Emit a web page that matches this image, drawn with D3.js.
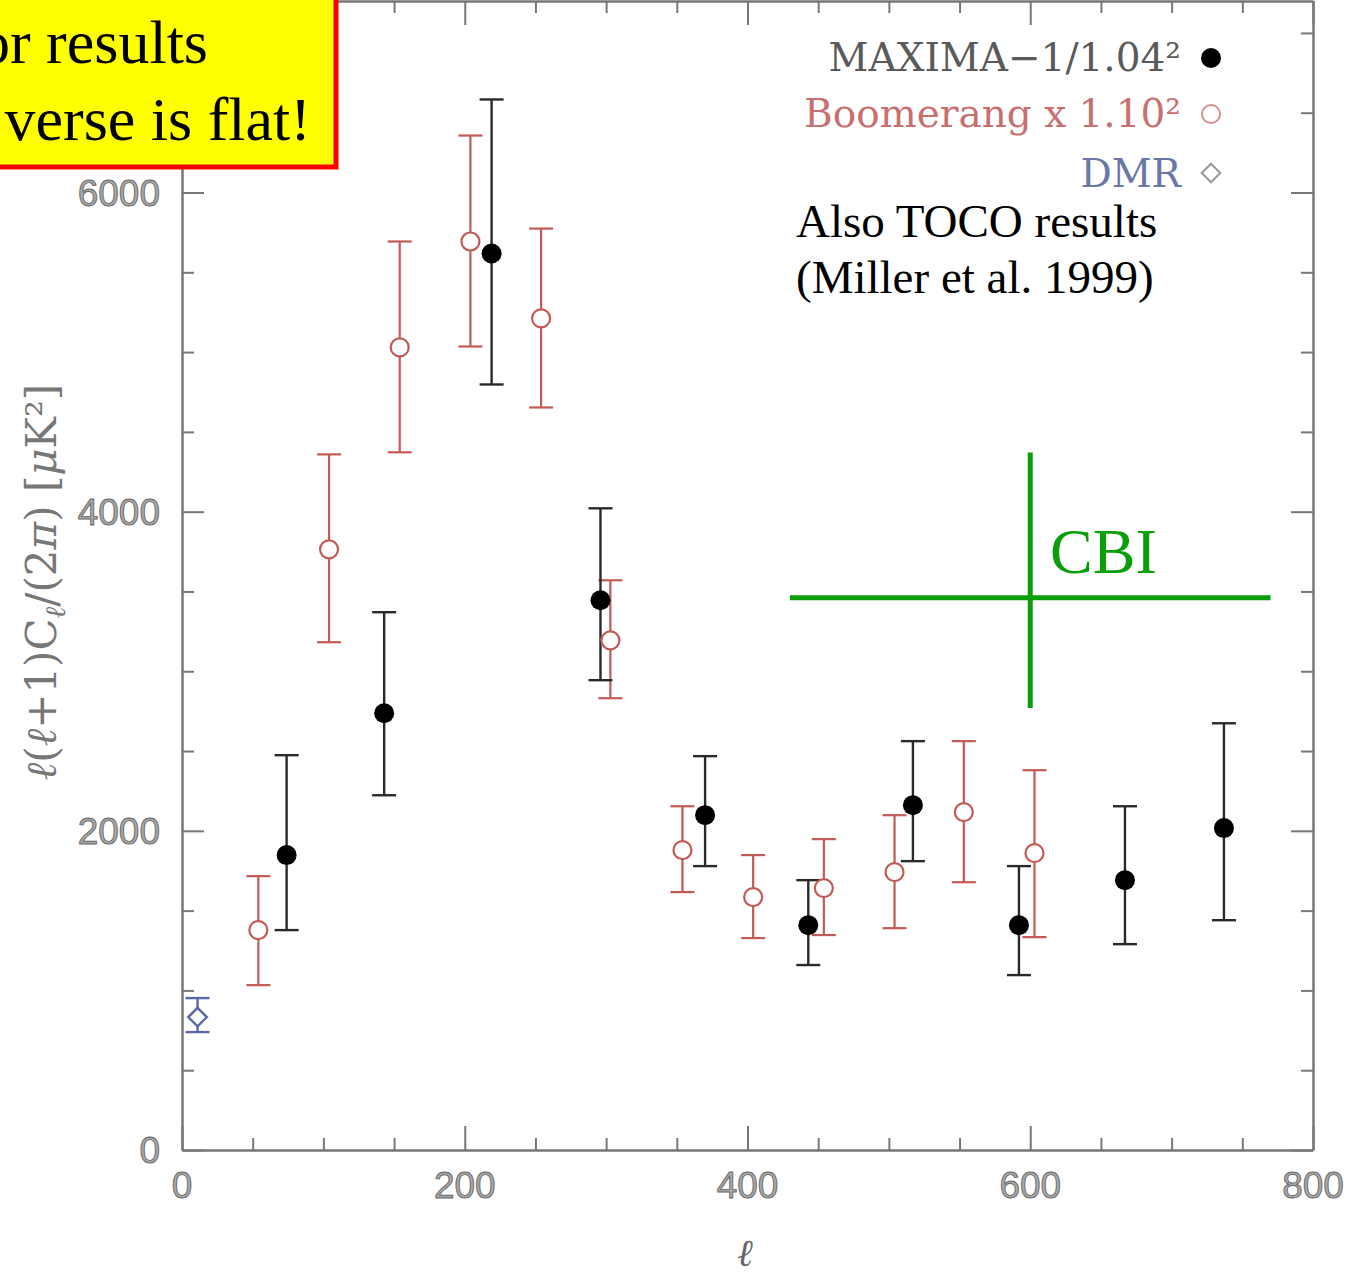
<!DOCTYPE html>
<html>
<head>
<meta charset="utf-8">
<script src="https://cdn.jsdelivr.net/npm/d3@7"></script>
<style>
  body { margin: 0; background: #fff; }
  svg { display: block; }
</style>
</head>
<body>
<div id="chart"></div>
<script>
// Data
const maximaL   = [74, 143, 219, 296, 370, 443, 517, 592, 667, 737];
const maximaVal = [1848, 2737, 5618, 3445, 2098, 1409, 2161, 1409, 1691, 2017];
const maximaHi  = [2474, 3370, 6583, 4021, 2468, 1691, 2562, 1779, 2154, 2674];
const maximaLo  = [1378, 2223, 4797, 2944, 1779, 1159, 1810, 1096, 1290, 1440];

const boomL   = [54, 104, 154, 204, 254, 303, 354, 404, 454, 504, 553, 603];
const boomVal = [1378, 3764, 5029, 5693, 5211, 3194, 1879, 1585, 1641, 1741, 2117, 1860];
const boomHi  = [1716, 4359, 5693, 6357, 5774, 3570, 2154, 1848, 1948, 2098, 2562, 2380];
const boomLo  = [1033, 3182, 4372, 5035, 4653, 2831, 1616, 1328, 1347, 1390, 1678, 1334];

const dmrL = [11];
const dmrVal = [833];
const dmrHi = [952];
const dmrLo = [739];

// CBI band: l range (low, centre, high) and value range (low, centre, high)
const cbiL = [430, 600, 770];
const cbiVal = [2770, 3460, 4370];

const xTicks = [0, 200, 400, 600, 800];
const yTicks = [0, 2000, 4000, 6000];
const legendLabels = ['MAXIMA\u22121/1.04\u00B2', 'Boomerang x 1.10\u00B2', 'DMR'];
const boxLines = ['or results', 'verse is flat!'];
const tocoLines = ['Also TOCO results', '(Miller et al. 1999)'];

// Layout
const WIDTH = 1348;
const HEIGHT = 1276;
const LEFT = 182, RIGHT = 1313, TOP = 1, BOTTOM = 1150;
const AXIS_GREY = '#777';
const RED = '#c25a55';
const BLUE = '#5a68a8';

const svg = d3.select('#chart').append('svg')
    .attr('width', WIDTH).attr('height', HEIGHT);
svg.append('rect').attr('width', WIDTH).attr('height', HEIGHT).attr('fill', '#fff');

const x = d3.scaleLinear().domain([0, 800]).range([LEFT, RIGHT]);
const y = d3.scaleLinear().domain([0, 7200]).range([BOTTOM, TOP]);

// Frame ticks (all pointing inward), majors longer
const minorX = d3.range(0, 801, 50);
const minorY = d3.range(0, 7201, 500);

function tickAxis(axis, transform, tickVals, isMajor, majorLen, minorLen) {
    const g = svg.append('g').attr('transform', transform)
        .call(axis.tickValues(tickVals).tickFormat('').tickSizeOuter(0));
    g.select('.domain').attr('stroke', AXIS_GREY).attr('stroke-width', 2.5);
    g.selectAll('.tick line')
        .attr('stroke', AXIS_GREY).attr('stroke-width', 2)
        .each(function (d) {
            const len = isMajor(d) ? majorLen : minorLen;
            const el = d3.select(this);
            if (el.attr('y2') !== null) el.attr('y2', len); else el.attr('x2', len);
        });
    return g;
}
const xMajor = d => d % 200 === 0;
const yMajor = d => d % 2000 === 0;

tickAxis(d3.axisBottom(x), `translate(0,${BOTTOM})`, minorX, xMajor, -24, -12);
tickAxis(d3.axisTop(x), `translate(0,${TOP})`, minorX, xMajor, 24, 12);
tickAxis(d3.axisLeft(y), `translate(${LEFT},0)`, minorY, yMajor, 22, 12);
tickAxis(d3.axisRight(y), `translate(${RIGHT},0)`, minorY, yMajor, -22, -12);

// Tick labels (light, outlined look)
const labelStyle = sel => sel
    .attr('font-family', 'Liberation Sans, Arial, sans-serif')
    .attr('font-size', 37)
    .attr('fill', '#a8a8a8')
    .attr('stroke', '#666')
    .attr('stroke-width', 0.9);

svg.append('g').selectAll('text').data(xTicks).join('text')
    .attr('x', d => x(d)).attr('y', 1198)
    .attr('text-anchor', 'middle')
    .text(d => d)
    .call(labelStyle);

svg.append('g').selectAll('text').data(yTicks).join('text')
    .attr('x', 160).attr('y', d => y(d) + 13)
    .attr('text-anchor', 'end')
    .text(d => d)
    .call(labelStyle);

// Axis titles
const yTitle = svg.append('text')
    .attr('transform', `translate(56,582) rotate(-90)`)
    .attr('text-anchor', 'middle')
    .attr('font-family', 'DejaVu Serif, serif')
    .attr('font-size', 42)
    .attr('fill', '#777');
yTitle.append('tspan').attr('font-style', 'italic').text('\u2113');
yTitle.append('tspan').text('(');
yTitle.append('tspan').attr('font-style', 'italic').text('\u2113');
yTitle.append('tspan').text('+1)C');
yTitle.append('tspan').attr('font-style', 'italic').attr('font-size', 28).attr('dy', 9).text('\u2113');
yTitle.append('tspan').attr('dy', -9).text('/(2');
yTitle.append('tspan').attr('font-style', 'italic').text('\u03C0');
yTitle.append('tspan').text(')  [');
yTitle.append('tspan').attr('font-style', 'italic').text('\u03BC');
yTitle.append('tspan').text('K\u00B2]');

svg.append('text')
    .attr('x', 745).attr('y', 1266)
    .attr('text-anchor', 'middle')
    .attr('font-family', 'DejaVu Serif, serif')
    .attr('font-style', 'italic')
    .attr('font-size', 38)
    .attr('fill', '#666')
    .text('\u2113');

// Error bars helper
function errorBars(ls, his, los, colour, width, cap) {
    const g = svg.append('g').attr('stroke', colour).attr('stroke-width', width);
    const idx = d3.range(ls.length);
    g.selectAll('.v').data(idx).join('line').attr('class', 'v')
        .attr('x1', i => x(ls[i])).attr('x2', i => x(ls[i]))
        .attr('y1', i => y(his[i])).attr('y2', i => y(los[i]));
    g.selectAll('.t').data(idx).join('line').attr('class', 't')
        .attr('x1', i => x(ls[i]) - cap).attr('x2', i => x(ls[i]) + cap)
        .attr('y1', i => y(his[i])).attr('y2', i => y(his[i]));
    g.selectAll('.b').data(idx).join('line').attr('class', 'b')
        .attr('x1', i => x(ls[i]) - cap).attr('x2', i => x(ls[i]) + cap)
        .attr('y1', i => y(los[i])).attr('y2', i => y(los[i]));
}

errorBars(boomL, boomHi, boomLo, RED, 2.2, 12);
errorBars(maximaL, maximaHi, maximaLo, '#2a2a2a', 2.4, 12);
errorBars(dmrL, dmrHi, dmrLo, BLUE, 2.4, 12);

// Markers
svg.append('g').selectAll('circle').data(d3.range(boomL.length)).join('circle')
    .attr('cx', i => x(boomL[i])).attr('cy', i => y(boomVal[i]))
    .attr('r', 9).attr('fill', '#fff').attr('stroke', RED).attr('stroke-width', 2.2);

svg.append('g').selectAll('circle').data(d3.range(maximaL.length)).join('circle')
    .attr('cx', i => x(maximaL[i])).attr('cy', i => y(maximaVal[i]))
    .attr('r', 10).attr('fill', '#000');

const diamond = d3.symbol().type(d3.symbolDiamond2).size(220);
svg.append('g').selectAll('path').data(d3.range(dmrL.length)).join('path')
    .attr('d', diamond)
    .attr('transform', i => `translate(${x(dmrL[i])},${y(dmrVal[i])})`)
    .attr('fill', '#fff').attr('stroke', BLUE).attr('stroke-width', 2.4);

// Legend
const legendColours = ['#5a5a5a', '#c87070', '#6a78a8'];
const legendY = [71, 127, 187];
svg.append('g').selectAll('text').data(legendLabels).join('text')
    .attr('x', 1181).attr('y', (d, i) => legendY[i])
    .attr('text-anchor', 'end')
    .attr('font-family', 'DejaVu Serif, serif')
    .attr('font-size', 39)
    .attr('fill', (d, i) => legendColours[i])
    .text(d => d);
svg.append('circle').attr('cx', 1211).attr('cy', 58).attr('r', 10).attr('fill', '#000');
svg.append('circle').attr('cx', 1211).attr('cy', 114).attr('r', 9)
    .attr('fill', 'none').attr('stroke', '#d49090').attr('stroke-width', 2);
svg.append('path').attr('d', diamond)
    .attr('transform', 'translate(1211,173)')
    .attr('fill', 'none').attr('stroke', '#999').attr('stroke-width', 2);

// TOCO note
svg.append('g').selectAll('text').data(tocoLines).join('text')
    .attr('x', 796).attr('y', (d, i) => 237 + i * 56)
    .attr('font-family', 'Liberation Serif, Times New Roman, serif')
    .attr('font-size', 47)
    .attr('fill', '#000')
    .text(d => d);

// CBI cross
const CBI_GREEN = '#0a9e0a';
svg.append('line')
    .attr('x1', x(cbiL[0])).attr('x2', x(cbiL[2]))
    .attr('y1', y(cbiVal[1])).attr('y2', y(cbiVal[1]))
    .attr('stroke', CBI_GREEN).attr('stroke-width', 5);
svg.append('line')
    .attr('x1', x(cbiL[1])).attr('x2', x(cbiL[1]))
    .attr('y1', y(cbiVal[2])).attr('y2', y(cbiVal[0]))
    .attr('stroke', CBI_GREEN).attr('stroke-width', 5);
svg.append('text')
    .attr('x', 1050).attr('y', 573)
    .attr('font-family', 'Liberation Serif, Times New Roman, serif')
    .attr('font-size', 64)
    .attr('fill', CBI_GREEN)
    .text('CBI');

// Yellow annotation box (cut off at the top-left edge, as in the slide)
svg.append('rect')
    .attr('x', -10).attr('y', -10).attr('width', 346).attr('height', 177)
    .attr('fill', '#ffff00').attr('stroke', '#ff0000').attr('stroke-width', 5);
const boxEnds = [208, 311];
svg.append('g').selectAll('text').data(boxLines).join('text')
    .attr('x', (d, i) => boxEnds[i]).attr('y', (d, i) => 63 + i * 77)
    .attr('text-anchor', 'end')
    .attr('font-family', 'Liberation Serif, Times New Roman, serif')
    .attr('font-size', 62)
    .attr('fill', '#000')
    .text(d => d);
</script>
</body>
</html>
